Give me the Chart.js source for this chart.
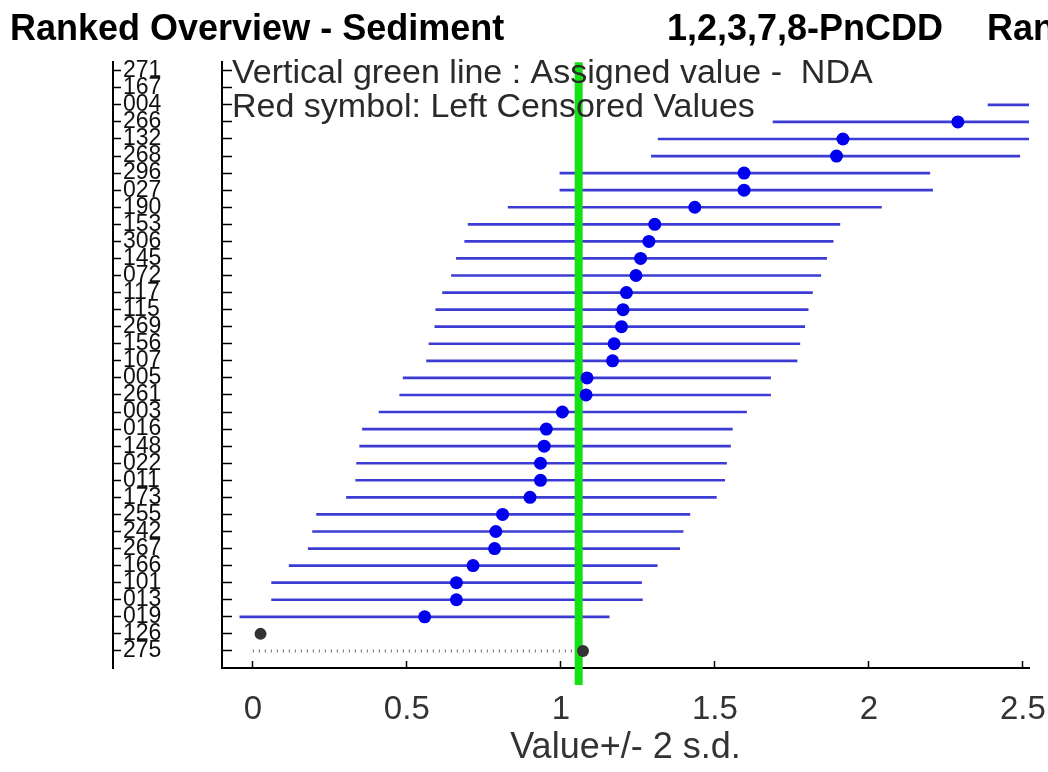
<!DOCTYPE html>
<html>
<head>
<meta charset="utf-8">
<script src="https://cdn.jsdelivr.net/npm/chart.js@4.4.1/dist/chart.umd.min.js"></script>
<style>
  html, body { margin: 0; padding: 0; background: #fff; }
  #wrap { width: 1048px; height: 772px; position: relative; }
</style>
</head>
<body>
<div id="wrap"><canvas id="rankChart"></canvas></div>
<script>
(function () {
  'use strict';

  const FONT = '"Liberation Sans", Arial, sans-serif';

  const chartTitle = 'Ranked Overview - Sediment';
  const compound = '1,2,3,7,8-PnCDD';
  const nextTitle = 'Ranked Overview';
  const notes = [
    'Vertical green line : Assigned value -  NDA',
    'Red symbol: Left Censored Values',
  ];
  const axisTitle = 'Value+/- 2 s.d.';

  // lab codes, top to bottom
  const labCodes = ['271', '167', '004', '266', '132', '268', '296', '027', '190', '153',
    '306', '145', '072', '117', '115', '269', '156', '107', '005', '261',
    '003', '016', '148', '022', '011', '173', '255', '242', '267', '166',
    '101', '013', '019', '126', '275'];

  // reported values (null = off scale / censored)
  const labValues = [null, null, null, 2.289, 1.916, 1.895, 1.595, 1.595, 1.435, 1.305,
    1.286, 1.259, 1.244, 1.213, 1.202, 1.197, 1.173, 1.168, 1.085, 1.082,
    1.005, 0.953, 0.946, 0.934, 0.934, 0.900, 0.811, 0.789, 0.785, 0.715,
    0.661, 0.661, 0.558, null, null];

  // value - 2 s.d.
  const lowValues = [null, null, 2.387, 1.689, 1.316, 1.294, 0.997, 0.997, 0.829, 0.699,
    0.688, 0.661, 0.645, 0.616, 0.594, 0.591, 0.572, 0.564, 0.488, 0.477,
    0.410, 0.356, 0.347, 0.337, 0.334, 0.304, 0.207, 0.194, 0.180, 0.118,
    0.061, 0.061, -0.042, null, null];

  // value + 2 s.d.
  const highValues = [null, null, 2.99, 2.89, 2.52, 2.490, 2.198, 2.207, 2.041, 1.906,
    1.884, 1.863, 1.844, 1.817, 1.803, 1.792, 1.776, 1.767, 1.681, 1.681,
    1.603, 1.557, 1.551, 1.538, 1.532, 1.505, 1.419, 1.397, 1.386, 1.313,
    1.262, 1.265, 1.157, null, null];

  // left censored results
  const censoredCodes = ['126', '275'];
  const censoredValues = [0.025, 1.072];
  const censoredLineCodes = ['275'];

  const assignedValue = 1.058;
  const xTicks = [0, 0.5, 1, 1.5, 2, 2.5];

  const LINE_BLUE = '#3c3cd4';
  const DOT_BLUE = '#0000ee';
  const GREEN = '#14e014';

  const rowOf = code => labCodes.indexOf(code);
  const rowTicks = labCodes.map((_, i) => i);

  const barData = [];
  const dotData = [];
  labCodes.forEach((c, i) => {
    if (lowValues[i] != null) barData.push({ x: [lowValues[i], highValues[i]], y: i });
    if (labValues[i] != null) dotData.push({ x: labValues[i], y: i });
  });

  const censoredData = censoredCodes.map((c, i) => ({ x: censoredValues[i], y: rowOf(c) }));

  const dottedSets = censoredLineCodes.map(c => {
    const r = rowOf(c);
    const v = censoredValues[censoredCodes.indexOf(c)];
    return {
      type: 'line',
      data: [{ x: 0, y: r }, { x: v, y: r }],
      showLine: true,
      borderColor: '#6a6a6a',
      borderWidth: 3,
      borderDash: [1, 5],
      pointRadius: 0,
      xAxisID: 'x',
      yAxisID: 'y',
      order: 4,
    };
  });

  // both row axes: fixed width, no label overhang padding
  function fitRowAxis(width) {
    return s => {
      s.width = width;
      s.paddingTop = 0;
      s.paddingBottom = 0;
    };
  }

  const headerPlugin = {
    id: 'headerText',
    afterDraw(chart) {
      const { ctx, chartArea } = chart;
      const tb = chart.titleBlock;
      const y = tb.top + 8 + 36 * 1.2 / 2;
      ctx.save();
      ctx.textBaseline = 'middle';
      ctx.textAlign = 'left';
      ctx.fillStyle = '#000';
      ctx.font = 'bold 36px ' + FONT;
      ctx.fillText(compound, 667, y);
      ctx.fillText(nextTitle, 987, y);
      ctx.textBaseline = 'alphabetic';
      ctx.fillStyle = '#2a2a2a';
      ctx.font = '34px ' + FONT;
      notes.forEach((t, i) => ctx.fillText(t, chartArea.left + 10, 83 + i * 34));
      ctx.restore();
    },
  };

  new Chart(document.getElementById('rankChart'), {
    type: 'scatter',
    data: {
      datasets: [
        {
          type: 'scatter',
          data: dotData,
          pointRadius: 6.5,
          pointBackgroundColor: DOT_BLUE,
          pointBorderWidth: 0,
          xAxisID: 'x',
          yAxisID: 'y',
          order: 1,
        },
        {
          type: 'scatter',
          data: censoredData,
          pointRadius: 6,
          pointBackgroundColor: '#333',
          pointBorderWidth: 0,
          xAxisID: 'x',
          yAxisID: 'y',
          order: 2,
        },
        {
          type: 'line',
          data: [{ x: assignedValue, y: -0.5 }, { x: assignedValue, y: 36 }],
          showLine: true,
          borderColor: GREEN,
          borderWidth: 8,
          pointRadius: 0,
          clip: false,
          xAxisID: 'x',
          yAxisID: 'y',
          order: 3,
        },
        ...dottedSets,
        {
          type: 'bar',
          indexAxis: 'y',
          data: barData,
          backgroundColor: LINE_BLUE,
          borderWidth: 0,
          barThickness: 2,
          xAxisID: 'x',
          yAxisID: 'y',
          order: 5,
        },
      ],
    },
    options: {
      responsive: true,
      maintainAspectRatio: false,
      animation: false,
      events: [],
      layout: { padding: { left: 10, right: 19, top: 0, bottom: 0 } },
      plugins: {
        legend: { display: false },
        tooltip: { enabled: false },
        title: {
          display: true,
          text: chartTitle,
          align: 'start',
          color: '#000',
          font: { family: FONT, size: 36, weight: 'bold' },
          padding: { top: 8, bottom: 11 },
        },
      },
      scales: {
        x: {
          type: 'linear',
          position: 'bottom',
          min: -0.1,
          max: 2.52,
          offset: false,
          afterBuildTicks: s => { s.ticks = xTicks.map(v => ({ value: v })); },
          afterFit: s => { s.height = 104; s.paddingLeft = 0; s.paddingRight = 0; },
          ticks: {
            autoSkip: false,
            maxRotation: 0,
            padding: 29,
            color: '#333',
            font: { family: FONT, size: 33 },
            callback: v => String(v),
          },
          grid: { drawOnChartArea: false, offset: false, tickLength: -7, tickColor: '#000', tickWidth: 1.5 },
          border: { color: '#000', width: 2 },
          title: {
            display: true,
            text: axisTitle,
            color: '#333',
            font: { family: FONT, size: 36 },
            padding: { top: 0, bottom: 2 },
          },
        },
        y: {
          type: 'linear',
          position: 'left',
          weight: 0,
          reverse: true,
          min: -0.5,
          max: 35,
          offset: false,
          afterBuildTicks: s => { s.ticks = rowTicks.map(v => ({ value: v })); },
          afterFit: fitRowAxis(109),
          ticks: { display: false, autoSkip: false },
          grid: { drawOnChartArea: false, offset: false, tickLength: -10, tickColor: '#000', tickWidth: 1.5 },
          border: { color: '#000', width: 2 },
        },
        yl: {
          type: 'linear',
          axis: 'y',
          position: 'left',
          weight: 10,
          reverse: true,
          min: -0.5,
          max: 35,
          offset: false,
          afterBuildTicks: s => { s.ticks = rowTicks.map(v => ({ value: v })); },
          afterTickToLabelConversion: s => {
            s.ticks.forEach(t => { t.label = labCodes[t.value]; });
          },
          afterFit: fitRowAxis(103),
          ticks: {
            mirror: true,
            padding: 10,
            autoSkip: false,
            color: '#111',
            font: { family: FONT, size: 23 },
          },
          grid: { drawOnChartArea: false, offset: false, tickLength: -8, tickColor: '#000', tickWidth: 1.5 },
          border: { color: '#000', width: 2 },
        },
      },
    },
    plugins: [headerPlugin],
  });
})();
</script>
</body>
</html>
